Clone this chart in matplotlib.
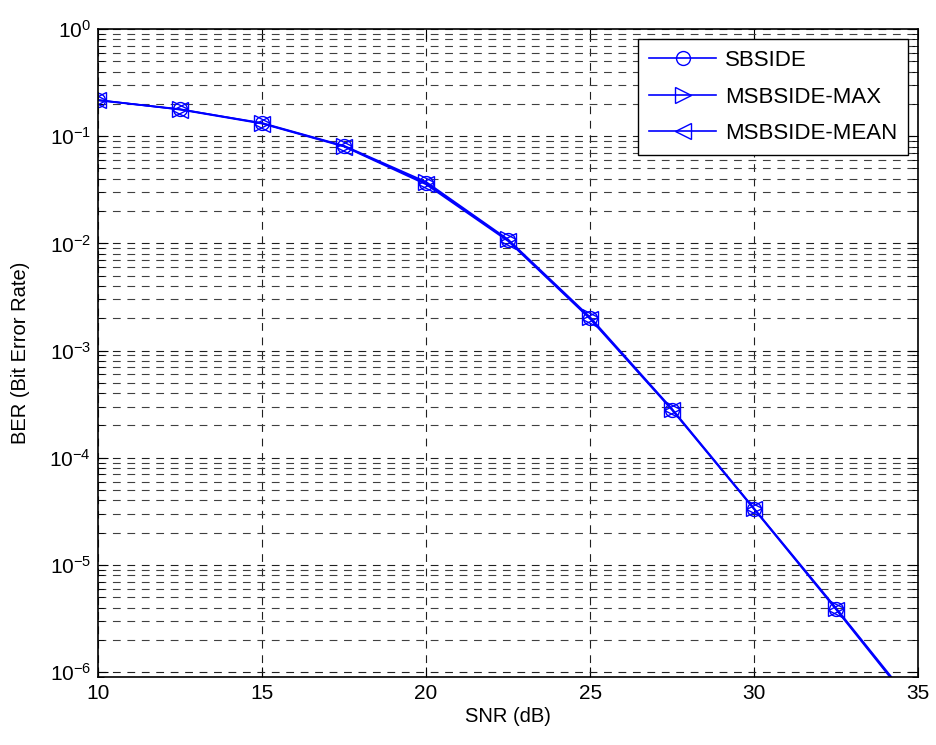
import matplotlib
matplotlib.use("Agg")
import matplotlib.pyplot as plt
from matplotlib.ticker import FixedLocator, LogLocator, NullFormatter

plt.rcParams['font.family'] = ['Liberation Sans', 'DejaVu Sans']
plt.rcParams['mathtext.fontset'] = 'custom'
plt.rcParams['mathtext.rm'] = 'Liberation Sans'
plt.rcParams['mathtext.it'] = 'Liberation Sans'
plt.rcParams['mathtext.bf'] = 'Liberation Sans'

# SNR points and simulated BER per method
snr = [10, 12.5, 15, 17.5, 20, 22.5, 25, 27.5, 30, 32.5, 35]
ber_sbside = [0.217, 0.179, 0.132, 0.0807, 0.0364, 0.0107, 2.00e-3, 2.81e-4, 3.33e-5, 3.88e-6, 4.3e-7]
ber_max = [0.216, 0.178, 0.133, 0.0815, 0.0375, 0.0109, 2.05e-3, 2.85e-4, 3.36e-5, 3.95e-6, 4.4e-7]
ber_mean = [0.218, 0.177, 0.131, 0.0800, 0.0355, 0.0105, 1.97e-3, 2.78e-4, 3.30e-5, 3.82e-6, 4.2e-7]
labels = ['SBSIDE', 'MSBSIDE-MAX', 'MSBSIDE-MEAN']
yticks = [1e-6, 1e-5, 1e-4, 1e-3, 1e-2, 1e-1, 1]

fig = plt.figure(figsize=(9.36, 7.45), dpi=100)
ax = fig.add_axes([0.1047, 0.0913, 0.8763, 0.8697])

blue = '#0000ff'
style = dict(color=blue, mfc='none', lw=1.2, mew=1)
ax.semilogy(snr, ber_sbside, '-o', ms=10, label=labels[0], **style)
ax.semilogy(snr, ber_max, '->', ms=12, label=labels[1], **style)
ax.semilogy(snr, ber_mean, '-<', ms=12, label=labels[2], **style)

ax.set_xlim(10, 35)
ax.set_ylim(9e-7, 1)
ax.set_xticks([10, 15, 20, 25, 30, 35])
ax.yaxis.set_major_locator(FixedLocator(yticks))
ax.yaxis.set_minor_locator(LogLocator(base=10, subs=range(2, 10), numticks=20))
ax.yaxis.set_minor_formatter(NullFormatter())

dash = (0, (7, 6))
ax.grid(True, which='major', axis='both', color='#202020', linestyle=dash, linewidth=0.8)
ax.grid(True, which='minor', axis='y', color='#404040', linestyle=dash, linewidth=0.8)

ax.tick_params(which='both', direction='in', top=True, right=True, labelsize=15)
ax.tick_params(which='major', length=7, pad=5)
ax.tick_params(which='minor', length=4)
for s in ax.spines.values():
    s.set_linewidth(1.2)

ax.set_xlabel('SNR (dB)', fontsize=14.5, labelpad=3)
ax.set_ylabel('BER (Bit Error Rate)', fontsize=14.5, labelpad=14)

leg = ax.legend(loc='upper right', fontsize=16, fancybox=False, framealpha=1,
                edgecolor='black', handlelength=3.0, borderaxespad=0.45,
                labelspacing=0.7, borderpad=0.5, handletextpad=0.4)
leg.get_frame().set_linewidth(1.0)

fig.savefig('out.png', dpi=100)
